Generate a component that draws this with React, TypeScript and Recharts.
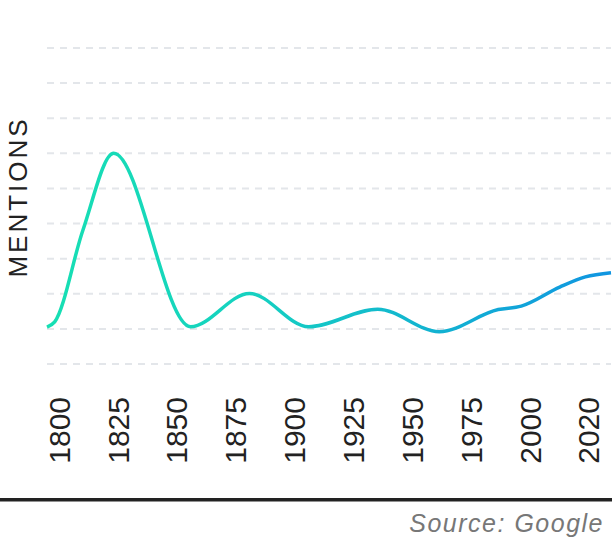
import { Line, LineChart, ReferenceLine, XAxis, YAxis } from 'recharts'

const years = [1800, 1803, 1814, 1826, 1856, 1879, 1902, 1929, 1953, 1976, 1985, 2000, 2010, 2020]
const mentions = [1.05, 1.2, 3.81, 6.0, 1.06, 2.01, 1.06, 1.56, 0.92, 1.55, 1.65, 2.19, 2.48, 2.6]
const tickLabels = ['1800', '1825', '1850', '1875', '1900', '1925', '1950', '1975', '2000', '2020']
const gridLevels = [0, 1, 2, 3, 4, 5, 6, 7, 8, 9]

const data = years.map((year, i) => ({ year, mentions: mentions[i] }))
const labelIndex = tickLabels.map((_, i) => i)

const font = '"Liberation Sans", Arial, Helvetica, sans-serif'

function MentionsLabel() {
  return (
    <text
      x={18}
      y={197}
      transform="rotate(-90, 18, 197)"
      textAnchor="middle"
      dominantBaseline="central"
      fontFamily={font}
      fontSize={26}
      letterSpacing={3}
      fill="#222"
    >
      MENTIONS
    </text>
  )
}

export default function App() {
  return (
    <div style={{ position: 'absolute', left: 0, top: 0, width: 612, height: 544, background: '#fff' }}>
      <LineChart width={612} height={470} data={data} margin={{ top: 48, right: 1, left: 0, bottom: 0 }}>
        <defs>
          <linearGradient id="lineGrad" x1="0" y1="0" x2="1" y2="0">
            <stop offset="0%" stopColor="#17dfb3" />
            <stop offset="35%" stopColor="#15d2c0" />
            <stop offset="100%" stopColor="#1095e1" />
          </linearGradient>
        </defs>
        <XAxis xAxisId="years" dataKey="year" type="number" domain={[1800, 2020]} hide />
        <XAxis
          xAxisId="labels"
          dataKey="slot"
          type="number"
          domain={[-0.025, 9.56]}
          allowDataOverflow
          ticks={labelIndex}
          interval={0}
          tickFormatter={(v: number) => tickLabels[v] ?? ''}
          axisLine={false}
          tickLine={false}
          tickSize={0}
          tickMargin={33}
          height={106}
          angle={-90}
          textAnchor="end"
          tick={{ fontFamily: font, fontSize: 30, fill: '#222' }}
        />
        <YAxis
          type="number"
          domain={[0, 9]}
          ticks={gridLevels}
          interval={0}
          tick={false}
          axisLine={false}
          tickLine={false}
          width={47}
          label={<MentionsLabel />}
        />
        {gridLevels.map((v) => (
          <ReferenceLine
            key={v}
            xAxisId="years"
            y={v}
            stroke="#e3e6ea"
            strokeWidth={2}
            strokeDasharray="7 6"
          />
        ))}
        <Line
          xAxisId="years"
          type="monotone"
          dataKey="mentions"
          stroke="url(#lineGrad)"
          strokeWidth={3.5}
          dot={false}
          activeDot={false}
          isAnimationActive={false}
        />
      </LineChart>
      <svg width={612} height={74} style={{ position: 'absolute', left: 0, top: 470 }}>
        <rect x={0} y={28} width={612} height={3.5} fill="#222" />
        <text
          x={604}
          y={62}
          textAnchor="end"
          fontFamily={font}
          fontStyle="italic"
          fontSize={25}
          letterSpacing={1.5}
          fill="#777"
        >
          Source: Google
        </text>
      </svg>
    </div>
  )
}
